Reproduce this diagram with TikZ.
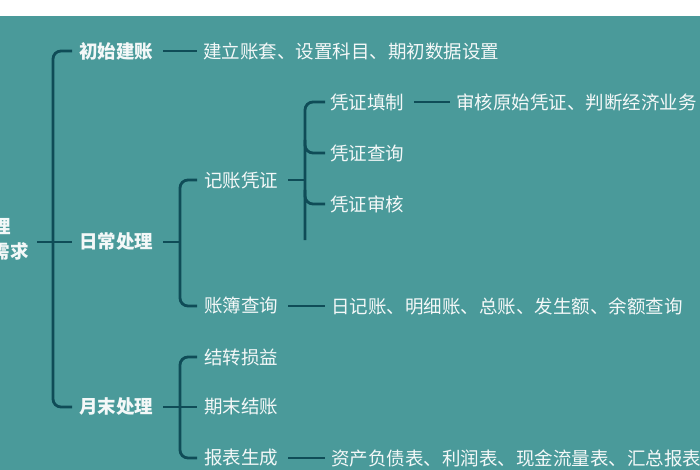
\documentclass[tikz,border=0pt]{standalone}
\usepackage{fontspec}
\newfontfamily\cjk{Noto Sans CJK SC}
\definecolor{bgteal}{HTML}{4A9A9A}
\definecolor{linecol}{HTML}{0F4C57}
\definecolor{txt}{HTML}{F4F8F8}
\begin{document}
\begin{tikzpicture}[x=1pt,y=-1pt,
  lab/.style={anchor=west,inner sep=0pt,text=txt,font=\cjk\fontsize{18.5}{20}\selectfont},
  labb/.style={lab,font=\cjk\bfseries\fontsize{18.5}{20}\selectfont},
  conn/.style={draw=linecol,line width=2.8pt},
  brk/.style={conn,rounded corners=8pt}]
\useasboundingbox (0,0) rectangle (700,470);
\clip (0,0) rectangle (700,470);
\fill[white] (0,0) rectangle (700,16);
\fill[bgteal] (0,16) rectangle (700,470);
% root
\node[labb,anchor=east] (r1) at (11,227) {理};
\node[labb,anchor=east] (r2) at (29,251) {需求};
\coordinate (rc) at (37,242);
% level 1
\node[labb] (a) at (79,51) {初始建账};
\node[labb] (b) at (79,242) {日常处理};
\node[labb] (c) at (79,407) {月末处理};
% level 2
\node[lab] (ad) at (203,51) {建立账套、设置科目、期初数据设置};
\node[lab] (b1) at (204,180) {记账凭证};
\node[lab] (b2) at (204,306) {账簿查询};
\node[lab] (c1) at (204,357) {结转损益};
\node[lab] (c2) at (204,407) {期末结账};
\node[lab] (c3) at (204,458) {报表生成};
% level 3
\node[lab] (s1) at (330,102) {凭证填制};
\node[lab] (s2) at (330,153) {凭证查询};
\node[lab] (s3) at (330,204) {凭证审核};
\node[lab] (s1d) at (456,102) {审核原始凭证、判断经济业务};
\node[lab] (b2d) at (331,306) {日记账、明细账、总账、发生额、余额查询};
\node[lab] (c3d) at (331,458) {资产负债表、利润表、现金流量表、汇总报表};
% coordinates of bracket spines
\coordinate (m) at (53,242);
\coordinate (bk) at (180,242);
\coordinate (ck) at (180,407);
\coordinate (sk) at (305,180);
\coordinate (skend) at (305,240);
\coordinate (sk2) at (305,140);
\coordinate (sk3) at (305,190);
% main tree
\draw[brk] ([xshift=-7pt]a.west) -| (m) |- ([xshift=-7pt]c.west);
\draw[conn] (rc) -- ([xshift=-7pt]b.west);
\draw[conn] ([xshift=10pt]a.east) -- ([xshift=-6pt]ad.west);
% 日常处理
\draw[conn] ([xshift=10pt]b.east) -- (bk);
\draw[brk] ([xshift=-7pt]b1.west) -| (bk) |- ([xshift=-7pt]b2.west);
\draw[conn] ([xshift=10pt]b1.east) -- (sk);
\draw[brk] ([xshift=-5pt]s1.west) -| (skend);
\draw[brk] (sk2) |- ([xshift=-5pt]s2.west);
\draw[brk] (sk3) |- ([xshift=-5pt]s3.west);
\draw[conn] ([xshift=10pt]s1.east) -- ([xshift=-6pt]s1d.west);
\draw[conn] ([xshift=10pt]b2.east) -- ([xshift=-6pt]b2d.west);
% 月末处理
\draw[conn] ([xshift=10pt]c.east) -- ([xshift=-7pt]c2.west);
\draw[brk] ([xshift=-7pt]c1.west) -| (ck) |- ([xshift=-7pt]c3.west);
\draw[conn] ([xshift=10pt]c3.east) -- ([xshift=-6pt]c3d.west);
\end{tikzpicture}
\end{document}
